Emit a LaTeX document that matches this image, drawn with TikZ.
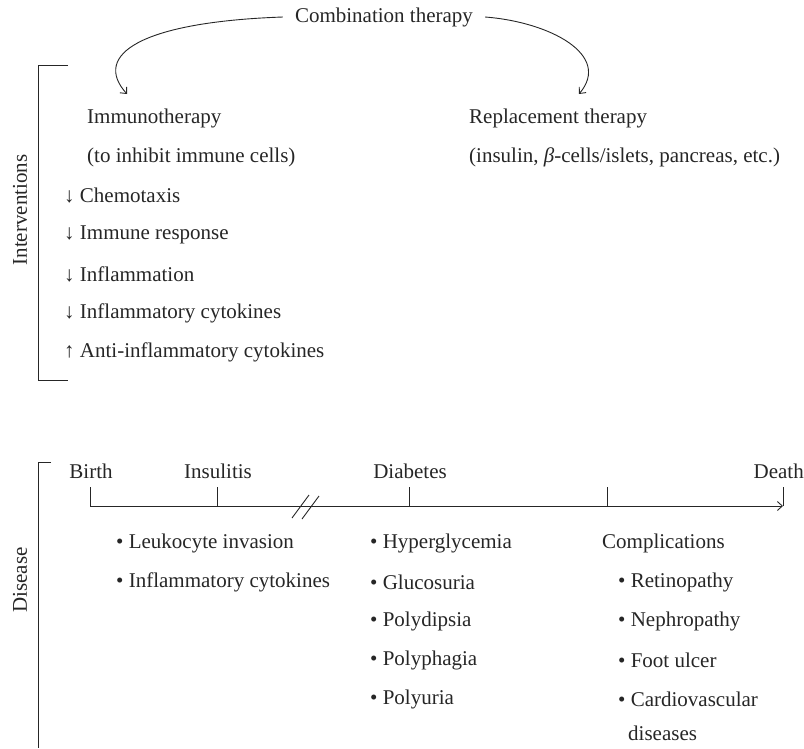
\documentclass[tikz,border=0pt]{standalone}
\usepackage{fontspec}
\setmainfont{Liberation Serif}
\usetikzlibrary{arrows.meta}
\begin{document}
\begin{tikzpicture}[x=1pt,y=-1pt,
  lbl/.style={inner sep=0pt,font=\fontsize{21}{24}\selectfont,text=black!85},
  lw/.style={lbl,anchor=west},
  ln/.style={line width=0.9pt,draw=black!85},
  arr/.style={ln,-{Straight Barb[length=5pt,width=9pt]}},
  tick/.style={ln}]
\useasboundingbox (0,0) rectangle (804,748);
% top
\node[lbl] (comb) at (384,17) {Combination therapy};
\node[lw] (immuno) at (87,118) {Immunotherapy};
\node[lw] (inhibit) at (87,157) {(to inhibit immune cells)};
\node[lw] (chemo) at (64,196) {↓ Chemotaxis};
\node[lw] (iresp) at (64,235) {↓ Immune response};
\node[lw] (inflam) at (64,274) {↓ Inflammation};
\node[lw] (icyt) at (64,313) {↓ Inflammatory cytokines};
\node[lw] (anti) at (64,352) {↑ Anti-inflammatory cytokines};
\node[lw] (replace) at (469,118) {Replacement therapy};
\node[lw] (insulin) at (469,157) {(insulin, \textit{β}-cells/islets, pancreas, etc.)};
\coordinate (ltip) at (127,94);
\coordinate (rtip) at (579,94);
\draw[arr] ([xshift=-12pt]comb.west) .. controls (140,22) and (92,55) .. (ltip);
\draw[arr] ([xshift=12pt]comb.east) .. controls (550,22) and (612,55) .. (rtip);
% interventions bracket
\coordinate (b1t) at (38,65);
\coordinate (b1b) at (38,380);
\draw[ln] ([xshift=30pt]b1t) -- (b1t) -- (b1b) -- ([xshift=30pt]b1b);
\node[lbl,rotate=90] (interv) at (20,210) {Interventions};
% disease bracket
\coordinate (b2t) at (38,462);
\coordinate (b2b) at (38,748);
\draw[ln] ([xshift=13pt]b2t) -- (b2t) -- (b2b);
\node[lbl,rotate=90] (disease) at (20,580) {Disease};
% timeline
\coordinate (t0) at (90,506);
\coordinate (t1) at (217,506);
\coordinate (t2) at (409,506);
\coordinate (t3) at (607,506);
\coordinate (t4) at (783,506);
\draw[arr] (t0) -- (t4);
\foreach \t in {t0,t1,t2,t3,t4} \draw[tick] (\t) -- ++(0,-19);
\draw[ln] (292,518) -- (309,495);
\draw[ln] (302,519) -- (319,496);
\node[lbl] (birth) at (91,471) {Birth};
\node[lbl] (insulitis) at (218,471) {Insulitis};
\node[lbl] (diabetes) at (410,471) {Diabetes};
\node[lbl,anchor=east] (death) at (804,471) {Death};
% bullets
\node[lw] (leuk) at (116,543) {• Leukocyte invasion};
\node[lw] (infcyt) at (116,582) {• Inflammatory cytokines};
\node[lw] (hyper) at (370,543) {• Hyperglycemia};
\node[lw] (gluc) at (370,582) {• Glucosuria};
\node[lw] (polyd) at (370,621) {• Polydipsia};
\node[lw] (polyp) at (370,660) {• Polyphagia};
\node[lw] (polyu) at (370,699) {• Polyuria};
\node[lw] (compl) at (602,543) {Complications};
\node[lw] (retino) at (618,582) {• Retinopathy};
\node[lw] (nephro) at (618,621) {• Nephropathy};
\node[lw] (foot) at (618,660) {• Foot ulcer};
\node[lw] (cardio) at (618,699) {• Cardiovascular};
\node[lw] (dis) at (628,733) {diseases};
\end{tikzpicture}
\end{document}
